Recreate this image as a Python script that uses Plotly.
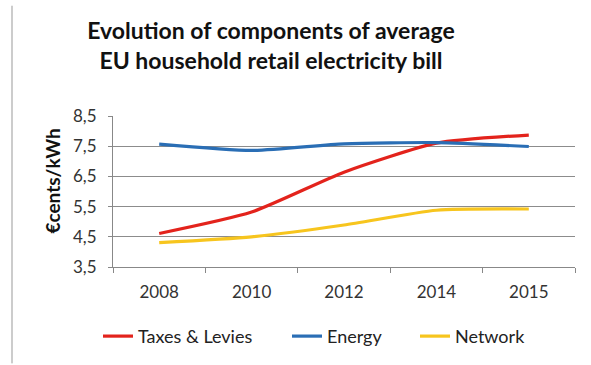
import plotly.graph_objects as go

years = ["2008", "2010", "2012", "2014", "2015"]
taxes = [4.61, 5.32, 6.64, 7.60, 7.87]
energy = [7.57, 7.36, 7.58, 7.62, 7.49]
network = [4.31, 4.50, 4.89, 5.38, 5.42]
y_ticks = [3.5, 4.5, 5.5, 6.5, 7.5, 8.5]

FONT = "Lato"
PLOT_L, PLOT_W = 113, 462

series = [("Taxes & Levies", taxes, "#E3231C", "legend", 138),
          ("Energy", energy, "#2A6EB5", "legend2", 327),
          ("Network", network, "#F7C51E", "legend3", 455)]

fig = go.Figure()
legends = {}
for name, vals, color, lg, text_x in series:
    fig.add_trace(go.Scatter(x=years, y=vals, name=name, mode="lines", legend=lg,
                             line=dict(color=color, width=3.2, shape="spline", smoothing=0.6)))
    legends[lg] = dict(orientation="h", x=(text_x - 40 - PLOT_L) / PLOT_W, xanchor="left",
                       y=-0.45, yanchor="middle", itemwidth=30,
                       font=dict(family=FONT, size=18, color="#222222"),
                       bgcolor="rgba(0,0,0,0)")

fig.update_layout(
    width=591, height=365,
    margin=dict(l=113, r=16, t=116, b=97),
    paper_bgcolor="white", plot_bgcolor="white",
    separators=", ",
    font=dict(family=FONT, size=16, color="#404040"),
    title=dict(text="<b>Evolution of components of average<br>EU household retail electricity bill</b>",
               x=271/591, xanchor="center", y=1 - 39/365, yanchor="middle",
               font=dict(family=FONT, size=23, color="#111111")),
    showlegend=True,
    shapes=[dict(type="line", xref="paper", yref="paper", x0=-101/462, x1=-101/462,
                 y0=-97/152, y1=(365 - 5 - 97) / 152, line=dict(color="#999999", width=1))],
    annotations=[dict(text="<b>€cents/kWh</b>", xref="paper", yref="paper",
                      x=(53 - 113) / 462, y=(268 - 182) / 152, textangle=-90,
                      showarrow=False, xanchor="center", yanchor="middle",
                      font=dict(family=FONT, size=19, color="#111111"))],
    **legends,
)
fig.update_xaxes(type="category", range=[-0.5, 4.5], showline=True, linecolor="#888888", linewidth=1,
                 ticks="outside", tickson="boundaries", ticklen=5, tickcolor="#888888",
                 ticklabelstandoff=10,
                 showgrid=False, tickfont=dict(size=17, color="#333333"))
fig.update_yaxes(range=[3.5, 8.5], tickvals=y_ticks, tickformat=".1f",
                 showline=True, linecolor="#888888", linewidth=1,
                 ticks="outside", ticklen=4, tickcolor="#888888",
                 ticklabelstandoff=8,
                 showgrid=True, gridcolor="#8c8c8c", gridwidth=1, zeroline=False,
                 tickfont=dict(size=17, color="#333333"))

fig.write_html("out.html")
